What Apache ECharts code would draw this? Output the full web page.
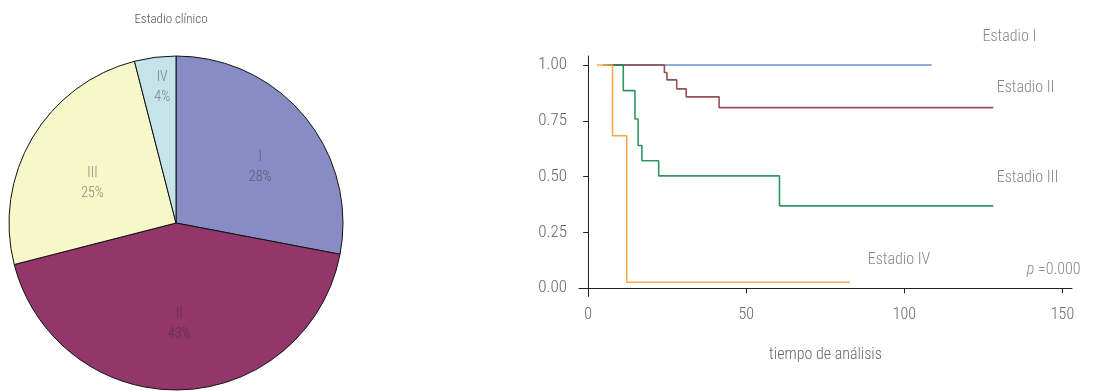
<!DOCTYPE html>
<html>
<head>
<meta charset="utf-8">
<script src="https://cdn.jsdelivr.net/npm/echarts@6/dist/echarts.min.js"></script>
<style>
html,body{margin:0;padding:0;background:#fff;}
#c{width:1106px;height:391px;}
</style>
</head>
<body>
<div id="c"></div>
<script>
// ---- Data ----
const pieTitle = 'Estadio clínico';
const stages = ['I', 'II', 'III', 'IV'];
const stageShares = [28, 43, 25, 4];
const stageColors = ['#878dc4', '#93366a', '#f7f7c9', '#c4e4ea'];

// Kaplan-Meier curves: [time, survival]
const kmStage1 = [[8.0, 1], [108.6, 1]];
const kmStage2 = [[6.0, 1], [24.1, 0.966], [24.9, 0.933], [28.0, 0.893], [31.0, 0.857], [41.4, 0.809], [128.1, 0.809]];
const kmStage3 = [[4.6, 1], [11.1, 0.885], [14.8, 0.758], [15.8, 0.639], [17.0, 0.571], [22.3, 0.503], [60.5, 0.369], [128.1, 0.369]];
const kmStage4 = [[2.7, 1], [7.7, 0.683], [12.2, 0.027], [82.8, 0.027]];
const kmNames = ['Estadio I', 'Estadio II', 'Estadio III', 'Estadio IV'];
const kmColors = ['#5b87c8', '#8e3c42', '#1b8a4f', '#f9a040'];

const xTicks = [0, 50, 100, 150];
const yTicks = [0, 0.25, 0.5, 0.75, 1];
const xAxisTitle = 'tiempo de análisis';

// annotation text anchored in data space: [x, y, text]
const curveLabels = [
  [124.7, 1.125, 'Estadio I'],
  [129.2, 0.897, 'Estadio II'],
  [129.2, 0.494, 'Estadio III'],
  [88.4, 0.127, 'Estadio IV']
];
const pValueLabel = [138.7, 0.082, 'p =0.000'];

// ---- Chart ----
const FONT = "'Roboto Condensed', 'Liberation Sans', sans-serif";
const GRAY = '#666666';
const chart = echarts.init(document.getElementById('c'), null, {renderer: 'canvas'});

const pieData = stages.map((s, i) => ({name: s, value: stageShares[i], itemStyle: {color: stageColors[i]}}));
// label nudges (pixels) so the text sits where the reference puts it
const pieLabelOffsets = [[4, 11], [0, -2], [6, 13], [4, 5]];
const labelPieData = (show) => stages.map((s, i) => ({
  name: s, value: stageShares[i],
  label: {show: show(i), offset: pieLabelOffsets[i]}
}));

const center = [176, 223];
const pieLabelStyle = {
  position: 'inside',
  formatter: p => p.name + '\n' + Math.round(p.percent) + '%',
  color: 'rgba(45,45,45,0.55)', fontFamily: FONT, fontWeight: 300, fontSize: 14, lineHeight: 20
};
const txt = {color: GRAY, fontFamily: FONT, fontWeight: 300, fontSize: 16};

const option = {
  animation: false,
  title: {
    text: pieTitle, left: 166, top: 8, textAlign: 'center',
    textStyle: {fontFamily: FONT, fontSize: 13, fontWeight: 300, color: '#555'}
  },
  grid: {left: 579, top: 56, width: 493, height: 240.5, containLabel: false},
  xAxis: {
    type: 'value', min: -2.9, max: 153,
    splitLine: {show: false},
    axisLine: {lineStyle: {color: '#222', width: 1}},
    axisTick: {length: 5, lineStyle: {color: '#222'}, customValues: xTicks},
    axisLabel: Object.assign({customValues: xTicks, margin: 10}, txt),
    name: xAxisTitle, nameLocation: 'middle', nameGap: 50,
    nameTextStyle: txt
  },
  yAxis: {
    type: 'value', min: -0.037, max: 1.04,
    splitLine: {show: false},
    axisLine: {show: true, lineStyle: {color: '#222', width: 1}},
    axisTick: {show: true, length: 5, lineStyle: {color: '#222'}, customValues: yTicks},
    axisLabel: Object.assign({customValues: yTicks, formatter: v => v.toFixed(2), margin: 12}, txt, {fontSize: 17})
  },
  series: [
    {
      type: 'pie', center: center, radius: [0, 167], startAngle: 90, clockwise: true,
      data: pieData, silent: true,
      itemStyle: {borderColor: '#111', borderWidth: 1},
      label: {show: false}, labelLine: {show: false}, emphasis: {disabled: true}
    },
    {
      type: 'pie', center: center, radius: [0, 202], startAngle: 90, clockwise: true,
      data: labelPieData(i => i < 3), silent: true, z: 3,
      itemStyle: {color: 'rgba(0,0,0,0)', borderWidth: 0},
      label: pieLabelStyle, labelLine: {show: false}, emphasis: {disabled: true}
    },
    {
      type: 'pie', center: center, radius: [0, 278], startAngle: 90, clockwise: true,
      data: labelPieData(i => i === 3), silent: true, z: 3,
      itemStyle: {color: 'rgba(0,0,0,0)', borderWidth: 0},
      label: pieLabelStyle, labelLine: {show: false}, emphasis: {disabled: true}
    },
    ...[kmStage1, kmStage2, kmStage3, kmStage4].map((d, i) => ({
      type: 'line', name: kmNames[i], data: d, step: 'end',
      showSymbol: false, symbol: 'none', silent: true,
      lineStyle: {color: kmColors[i], width: 1.6, opacity: 0.9},
      itemStyle: {color: kmColors[i]}
    })),
    {
      type: 'scatter', clip: false, silent: true, symbolSize: 1,
      itemStyle: {color: 'rgba(0,0,0,0)'},
      data: curveLabels.map(d => ({value: [d[0], d[1]], name: d[2]})).concat([
        {value: [pValueLabel[0], pValueLabel[1]], name: pValueLabel[2], label: {
          formatter: '{i|p} {n|=0.000}'
        }}
      ]),
      label: Object.assign({
        show: true, position: 'inside', align: 'left', verticalAlign: 'middle',
        formatter: p => p.name,
        rich: {
          i: Object.assign({fontStyle: 'italic'}, txt),
          n: txt
        }
      }, txt)
    }
  ]
};
chart.setOption(option);
</script>
</body>
</html>
